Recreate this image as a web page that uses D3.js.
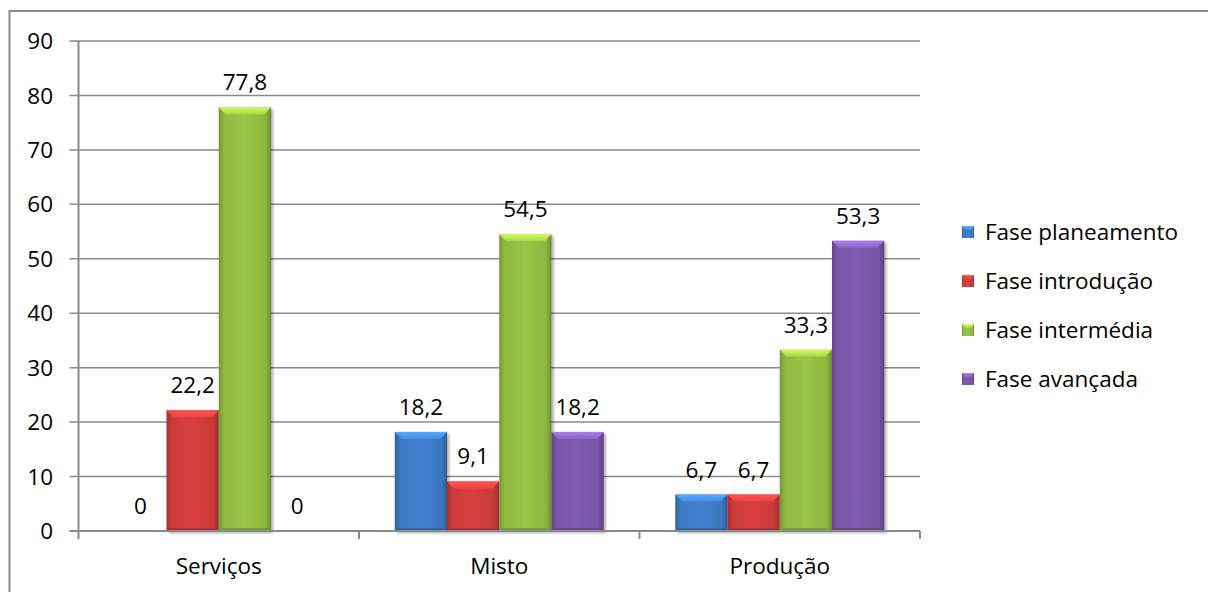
<!DOCTYPE html>
<html>
<head>
<meta charset="utf-8">
<script src="https://cdn.jsdelivr.net/npm/d3@7"></script>
<style>
  html, body { margin: 0; padding: 0; background: #fff; }
  svg { display: block; font-family: "Open Sans", Lato, sans-serif; }
</style>
</head>
<body>
<svg id="chart" width="1208" height="592"></svg>
<script>
// Sector categories and phases
const categories = ["Serviços", "Misto", "Produção"];
const seriesNames = ["Fase planeamento", "Fase introdução", "Fase intermédia", "Fase avançada"];
const seriesColors = ["#3e7dca", "#d33c3b", "#95c043", "#7d59ad"];

// Percentages per phase, one array per series, in category order
const planeamento = [0, 18.2, 6.7];
const introducao  = [22.2, 9.1, 6.7];
const intermedia  = [77.8, 54.5, 33.3];
const avancada    = [0, 18.2, 53.3];
const seriesValues = [planeamento, introducao, intermedia, avancada];

const yTicks = [0, 10, 20, 30, 40, 50, 60, 70, 80, 90];

const svg = d3.select("#chart");
const fmt = v => String(v).replace(".", ",");
const FS = 22.5;

// Outer frame
svg.append("rect")
  .attr("x", 9.5).attr("y", 11).attr("width", 1210).attr("height", 600)
  .attr("fill", "none").attr("stroke", "#8a8a8a").attr("stroke-width", 2);

const plot = { left: 78.5, right: 920, top: 41, bottom: 531 };

const x0 = d3.scaleBand().domain(categories).range([plot.left, plot.right]).padding(0);
const bw = x0.bandwidth();
const edge = bw * 0.1275;
const x1 = d3.scaleBand().domain(d3.range(seriesNames.length)).range([edge, bw - edge]).padding(0);
const y = d3.scaleLinear().domain([0, 90]).range([plot.bottom, plot.top]);

// Gradients for the bevelled bar look
const defs = svg.append("defs");
seriesColors.forEach((c, i) => {
  const base = d3.color(c);
  const g = defs.append("linearGradient").attr("id", "body" + i)
    .attr("x1", "0").attr("x2", "1").attr("y1", "0").attr("y2", "0");
  g.append("stop").attr("offset", "0").attr("stop-color", base.darker(0.7));
  g.append("stop").attr("offset", "0.1").attr("stop-color", base.darker(0.1));
  g.append("stop").attr("offset", "0.5").attr("stop-color", base.brighter(0.08));
  g.append("stop").attr("offset", "0.9").attr("stop-color", base.darker(0.15));
  g.append("stop").attr("offset", "1").attr("stop-color", base.darker(0.9));
  const t = defs.append("linearGradient").attr("id", "top" + i)
    .attr("x1", "0").attr("x2", "0").attr("y1", "0").attr("y2", "1");
  t.append("stop").attr("offset", "0").attr("stop-color", base.brighter(0.9));
  t.append("stop").attr("offset", "1").attr("stop-color", base.brighter(0.3));
});
const shadow = defs.append("filter").attr("id", "shadow")
  .attr("x", "-20%").attr("y", "-10%").attr("width", "140%").attr("height", "130%");
shadow.append("feGaussianBlur").attr("in", "SourceAlpha").attr("stdDeviation", 1.5);
shadow.append("feOffset").attr("dx", 1.5).attr("dy", 1.5).attr("result", "b");
shadow.append("feComponentTransfer").append("feFuncA").attr("type", "linear").attr("slope", 0.35);
const merge = shadow.append("feMerge");
merge.append("feMergeNode");
merge.append("feMergeNode").attr("in", "SourceGraphic");

// Horizontal gridlines with ticks extending left of the axis
svg.append("g").selectAll("line").data(yTicks).join("line")
  .attr("x1", plot.left - 9).attr("x2", plot.right)
  .attr("y1", d => y(d)).attr("y2", d => y(d))
  .attr("stroke", "#8a8a8a").attr("stroke-width", 1.5);

// Y axis labels
svg.append("g").selectAll("text").data(yTicks).join("text")
  .attr("x", 53).attr("y", d => y(d)).attr("dy", "0.36em")
  .attr("text-anchor", "end").attr("font-size", FS).attr("fill", "#000")
  .text(d => d);

// Bars
const flat = [];
categories.forEach((cat, ci) => {
  seriesValues.forEach((vals, si) => flat.push({ cat, si, v: vals[ci] }));
});

const bars = svg.append("g").selectAll("g").data(flat.filter(d => d.v > 0)).join("g")
  .attr("filter", "url(#shadow)");
bars.each(function(d) {
  const g = d3.select(this);
  const bx = x0(d.cat) + x1(d.si);
  const w = x1.bandwidth();
  const top = y(d.v);
  const h = plot.bottom - top;
  const bev = Math.min(7, h / 2);
  g.append("rect").attr("x", bx).attr("y", top).attr("width", w).attr("height", h)
    .attr("fill", `url(#body${d.si})`);
  g.append("path")
    .attr("d", `M${bx},${top} L${bx + w},${top} L${bx + w - bev},${top + bev} L${bx + bev},${top + bev} Z`)
    .attr("fill", `url(#top${d.si})`);
  g.append("path")
    .attr("d", `M${bx},${plot.bottom} L${bx + w},${plot.bottom} L${bx + w - 3},${plot.bottom - 3} L${bx + 3},${plot.bottom - 3} Z`)
    .attr("fill", d3.color(seriesColors[d.si]).darker(0.6));
});

// Axis lines
svg.append("line").attr("x1", plot.left).attr("x2", plot.left)
  .attr("y1", plot.top).attr("y2", plot.bottom)
  .attr("stroke", "#8a8a8a").attr("stroke-width", 2);
svg.append("line").attr("x1", plot.left - 9).attr("x2", plot.right)
  .attr("y1", plot.bottom).attr("y2", plot.bottom)
  .attr("stroke", "#8a8a8a").attr("stroke-width", 2);
svg.append("g").selectAll("line").data(d3.range(categories.length + 1)).join("line")
  .attr("x1", i => plot.left + i * bw).attr("x2", i => plot.left + i * bw)
  .attr("y1", plot.bottom).attr("y2", plot.bottom + 8)
  .attr("stroke", "#8a8a8a").attr("stroke-width", 2);

// Value labels
svg.append("g").selectAll("text").data(flat).join("text")
  .attr("x", d => x0(d.cat) + x1(d.si) + x1.bandwidth() / 2)
  .attr("y", d => y(d.v) - 17)
  .attr("text-anchor", "middle").attr("font-size", FS).attr("fill", "#000")
  .text(d => fmt(d.v));

// Category labels
svg.append("g").selectAll("text").data(categories).join("text")
  .attr("x", d => x0(d) + bw / 2).attr("y", 574)
  .attr("text-anchor", "middle").attr("font-size", FS).attr("fill", "#000")
  .text(d => d);

// Legend
const legend = svg.append("g").selectAll("g").data(seriesNames).join("g")
  .attr("transform", (d, i) => `translate(962, ${232 + i * 49})`);
legend.append("rect").attr("x", 0).attr("y", -6).attr("width", 12).attr("height", 12)
  .attr("fill", (d, i) => `url(#body${i})`);
legend.append("path").attr("d", "M0,-6 L12,-6 L9,-2 L3,-2 Z")
  .attr("fill", (d, i) => `url(#top${i})`);
legend.append("text").attr("x", 23).attr("dy", "0.36em")
  .attr("font-size", FS).attr("fill", "#000")
  .text(d => d);
</script>
</body>
</html>
